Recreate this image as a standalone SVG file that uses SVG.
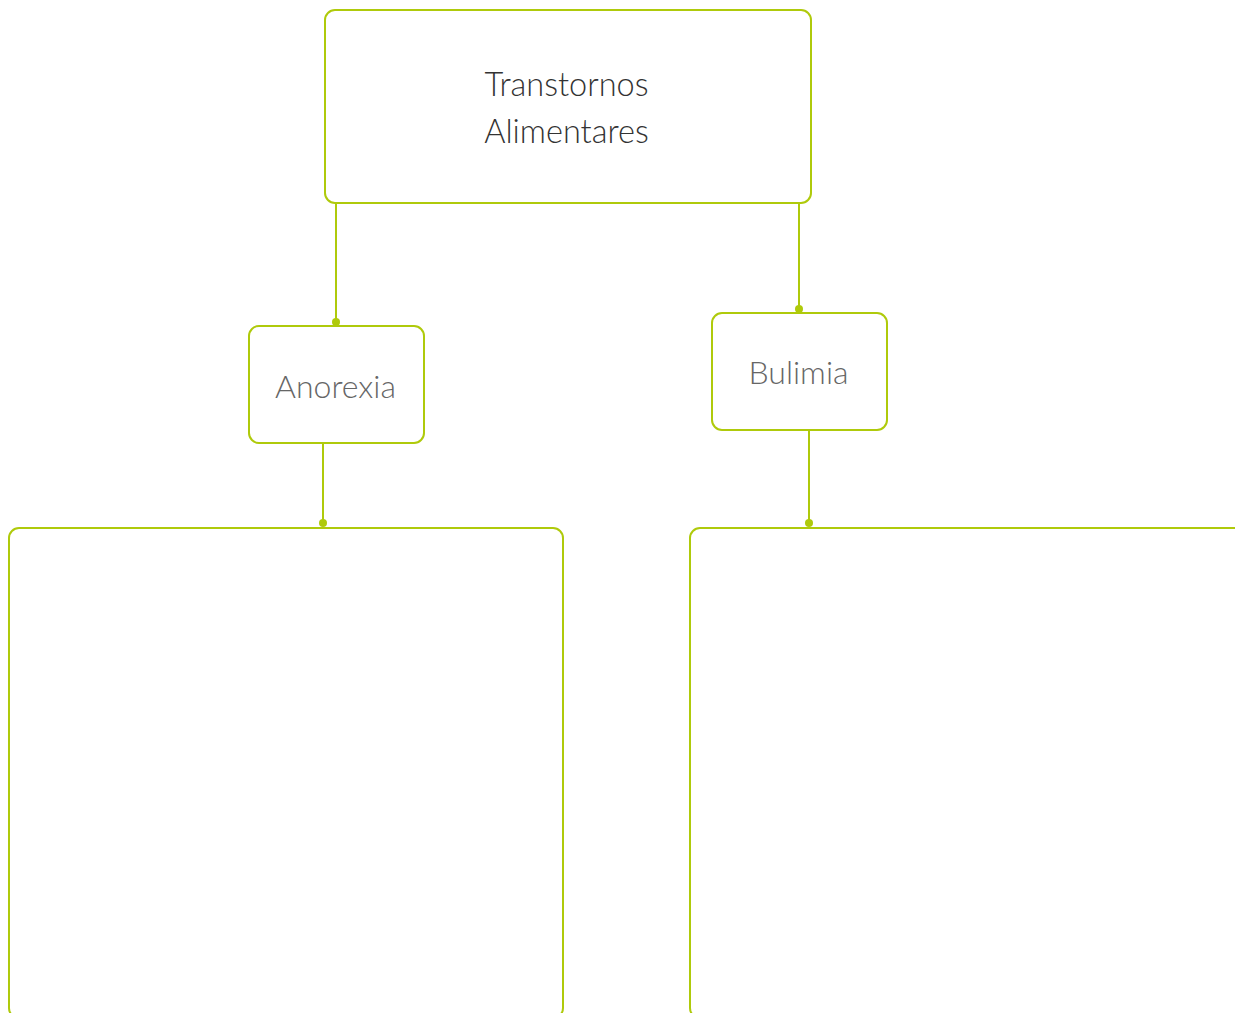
<svg xmlns="http://www.w3.org/2000/svg" width="1235" height="1013" viewBox="0 0 1235 1013">
<style>
.box{fill:#fff;stroke:#afca0b;stroke-width:2}
.con line{stroke:#afca0b;stroke-width:2}
.con circle{fill:#afca0b}
.t{font-family:Lato,"Liberation Sans",sans-serif;font-weight:300;text-anchor:middle}
</style>
<rect width="1235" height="1013" fill="#fff"/>
<g id="connectors" class="con">
<line x1="336" y1="203" x2="336" y2="322"/><circle cx="336" cy="322" r="4"/>
<line x1="799" y1="203" x2="799" y2="309"/><circle cx="799" cy="309" r="4"/>
<line x1="323" y1="443" x2="323" y2="523"/><circle cx="323" cy="523" r="4"/>
<line x1="809" y1="430" x2="809" y2="523"/><circle cx="809" cy="523" r="4"/>
</g>
<g id="root">
<rect class="box" x="325" y="10" width="486" height="193" rx="10"/>
<text class="t" x="566.5" y="96" font-size="32.5" fill="#333">Transtornos</text>
<text class="t" x="566.5" y="143" font-size="32.5" fill="#333">Alimentares</text>
</g>
<g id="anorexia">
<rect class="box" x="249" y="326" width="175" height="117" rx="10"/>
<text class="t" x="335.5" y="398" font-size="32" fill="#666">Anorexia</text>
</g>
<g id="bulimia">
<rect class="box" x="712" y="313" width="175" height="117" rx="10"/>
<text class="t" x="798.5" y="384" font-size="32" fill="#666">Bulimia</text>
</g>
<g id="anorexia-detail">
<rect class="box" x="9" y="528" width="554" height="490" rx="10"/>
</g>
<g id="bulimia-detail">
<rect class="box" x="690" y="528" width="600" height="490" rx="10"/>
</g>
</svg>
